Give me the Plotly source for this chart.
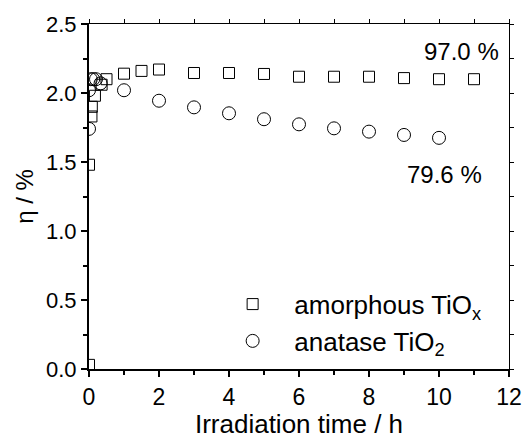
import plotly.graph_objects as go

# amorphous TiOx
amor_t = [0, 0, 0.07, 0.08, 0.17, 0.36, 0.5, 1, 1.5, 2, 3, 4, 5, 6, 7, 8, 9, 10, 11]
amor_eta = [0.03, 1.48, 1.83, 1.90, 1.98, 2.06, 2.10, 2.14, 2.16, 2.17, 2.145, 2.145, 2.138, 2.118, 2.118, 2.118, 2.108, 2.10, 2.10]
# anatase TiO2
ana_t = [0, 0, 0.05, 0.12, 0.2, 0.33, 1, 2, 3, 4, 5, 6, 7, 8, 9, 10]
ana_eta = [1.74, 2.02, 2.10, 2.10, 2.10, 2.07, 2.02, 1.944, 1.896, 1.853, 1.81, 1.773, 1.744, 1.72, 1.696, 1.675]

labels = ["97.0 %", "79.6 %"]
label_x = [10.63, 10.16]
label_y = [2.304, 1.413]

FONT = "Liberation Sans, Arial, sans-serif"
fig = go.Figure()
fig.add_trace(go.Scatter(x=amor_t, y=amor_eta, mode="markers",
                         name="\u00a0\u00a0\u00a0amorphous TiO<sub>x</sub>",
                         marker=dict(symbol="square-open", size=11, color="black", line=dict(width=1))))
fig.add_trace(go.Scatter(x=ana_t, y=ana_eta, mode="markers",
                         name="\u00a0\u00a0\u00a0anatase TiO<sub>2</sub>",
                         marker=dict(symbol="circle-open", size=13, color="black", line=dict(width=1))))
# dummy trace to activate top/right axes
fig.add_trace(go.Scatter(x=[0], y=[0], xaxis="x2", yaxis="y2", mode="markers",
                         marker=dict(opacity=0), showlegend=False, hoverinfo="skip"))

for t, x, y in zip(labels, label_x, label_y):
    fig.add_annotation(x=x, y=y, text=t, showarrow=False, font=dict(size=24, color="black", family=FONT))

axis_common = dict(showgrid=False, zeroline=False, color="black", ticks="outside", tickcolor="black",
                   automargin=False)
fig.update_layout(
    width=526, height=439,
    margin=dict(l=89, r=17, t=24, b=70),
    paper_bgcolor="white", plot_bgcolor="white",
    font=dict(family=FONT, size=22, color="black"),
    showlegend=True,
    legend=dict(x=0.342, y=0.256, xanchor="left", yanchor="top", bgcolor="rgba(0,0,0,0)",
                font=dict(size=26), tracegroupgap=0),
    xaxis=dict(range=[0, 12], tickvals=[0, 2, 4, 6, 8, 10, 12], ticklen=6, tickwidth=1.5,
               showline=True, linewidth=2, linecolor="black",
               minor=dict(tickvals=[1, 3, 5, 7, 9, 11], ticklen=4, tickwidth=1.5, ticks="outside", tickcolor="black"),
               title=dict(text="Irradiation time / h", font=dict(size=26), standoff=6),
               tickfont=dict(size=23), **axis_common),
    yaxis=dict(range=[0, 2.5], tickvals=[0, 0.5, 1.0, 1.5, 2.0, 2.5], tickformat=".1f", ticklen=6, tickwidth=1.5,
               showline=True, linewidth=2, linecolor="black",
               minor=dict(tickvals=[0.25, 0.75, 1.25, 1.75, 2.25], ticklen=4, tickwidth=1.5, ticks="outside", tickcolor="black"),
               title=dict(text="η / %", font=dict(size=24), standoff=6),
               tickfont=dict(size=22), **axis_common),
    xaxis2=dict(range=[0, 12], overlaying="x", side="top", anchor="y2", tickvals=list(range(13)),
                ticklen=4, tickwidth=1, showticklabels=False, showline=True, linewidth=1, linecolor="black",
                **axis_common),
    yaxis2=dict(range=[0, 2.5], overlaying="y", side="right", anchor="x2",
                tickvals=[i * 0.25 for i in range(11)], ticklen=4, tickwidth=1, showticklabels=False,
                showline=True, linewidth=1, linecolor="black", **axis_common),
)
fig.write_html("out.html", config={"displayModeBar": False},
               post_script="document.body.style.margin='0';document.body.style.padding='0';"
                           "document.body.style.overflow='hidden';")
